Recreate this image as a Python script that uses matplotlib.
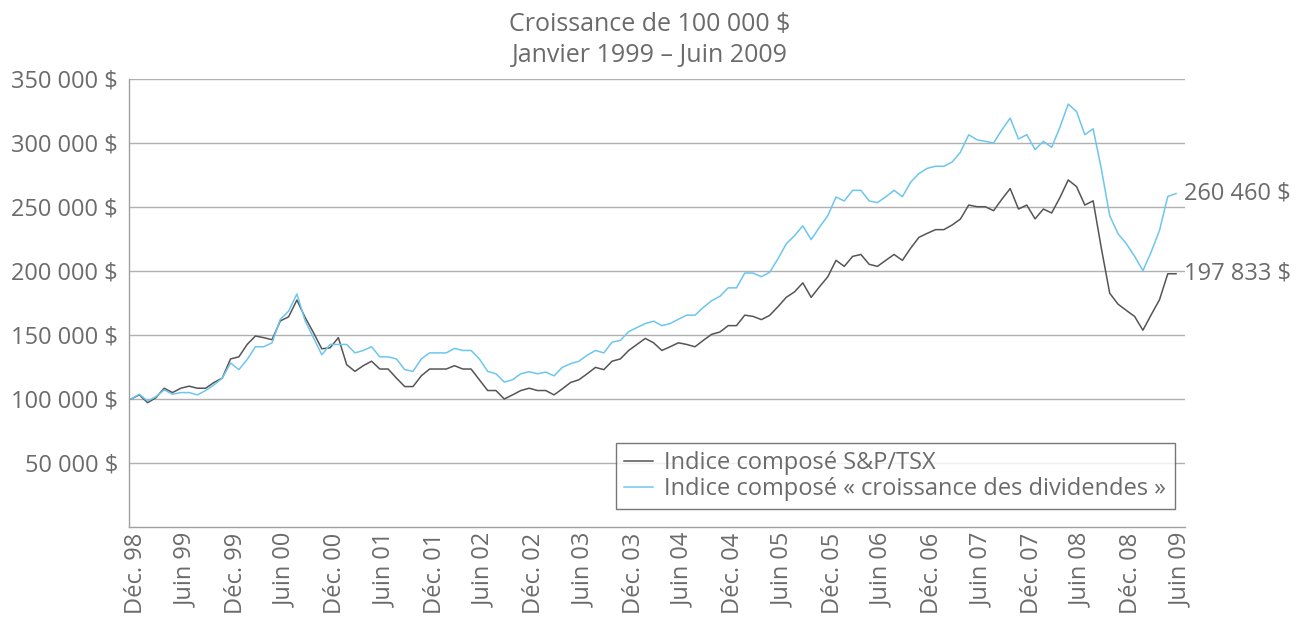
import matplotlib
matplotlib.use("Agg")
import matplotlib.pyplot as plt
import matplotlib.transforms as mtransforms
import numpy as np

# monthly values in thousands of $, Dec 98 -> Jun 09
tsx = [
    100.0, 103.2, 97.1, 101.0, 108.4, 105.0, 108.4, 110.0, 108.4, 108.4, 112.9, 116.3,
    131.3, 132.9, 142.6, 149.2, 147.9, 146.3, 161.0, 164.2, 177.3, 163.6, 151.8, 139.2,
    140.0, 147.9, 126.8, 121.6, 126.0, 129.5, 123.4, 123.4, 116.3, 109.7, 109.7, 118.1,
    123.4, 123.4, 123.4, 126.0, 123.4, 123.4, 115.0, 106.6, 106.6, 100.0, 103.2, 106.6,
    108.4, 106.6, 106.6, 103.2, 107.9, 112.9, 115.0, 119.7, 124.7, 122.9, 129.5, 131.3,
    137.9, 142.6, 147.3, 143.9, 137.9, 140.8, 143.9, 142.6, 140.8, 145.8, 150.5, 152.3,
    157.3, 157.3, 165.5, 164.5, 162.0, 165.3, 172.1, 179.4, 183.7, 190.7, 179.4, 187.6,
    195.4, 208.3, 203.6, 211.4, 212.9, 205.2, 203.6, 208.3, 212.9, 208.3, 217.8, 226.3,
    229.4, 232.3, 232.3, 235.9, 240.6, 251.5, 250.2, 250.2, 247.1, 256.1, 264.4, 248.4,
    251.5, 240.7, 248.4, 245.3, 257.4, 271.1, 265.9, 251.5, 254.8, 217.4, 182.6, 174.1,
    169.2, 164.5, 153.7, 165.8, 177.5, 197.8, 197.833,
]
div_growth = [
    100.0, 103.7, 98.4, 101.8, 107.1, 103.7, 105.0, 105.0, 103.2, 106.6, 111.0, 116.3,
    128.1, 122.9, 130.8, 140.8, 140.8, 143.9, 162.3, 168.6, 182.0, 161.0, 147.9, 134.5,
    142.6, 142.6, 142.6, 136.0, 137.9, 140.8, 132.9, 132.9, 131.3, 122.9, 121.6, 131.3,
    136.0, 136.0, 136.0, 139.5, 137.9, 137.9, 131.3, 121.6, 119.7, 113.2, 115.0, 119.7,
    121.3, 119.7, 121.0, 118.1, 124.7, 127.6, 129.5, 134.2, 137.9, 136.0, 144.4, 145.8,
    152.6, 155.8, 158.9, 160.8, 157.3, 158.9, 162.3, 165.5, 165.5, 171.5, 176.8, 180.2,
    186.8, 186.8, 198.4, 198.4, 195.5, 199.0, 209.5, 221.2, 227.6, 235.3, 224.5, 234.1,
    243.1, 257.8, 254.7, 263.0, 263.0, 254.7, 253.4, 258.0, 263.0, 258.0, 269.4, 276.1,
    280.2, 281.8, 281.8, 285.1, 292.8, 306.4, 302.5, 301.3, 300.0, 310.3, 319.4, 303.1,
    306.5, 294.8, 301.3, 296.6, 312.4, 330.4, 324.5, 306.5, 311.1, 279.4, 243.2, 229.1,
    221.3, 211.5, 200.2, 214.9, 231.6, 258.2, 260.46,
]
tick_labels = [
    "Déc. 98", "Juin 99", "Déc. 99", "Juin 00", "Déc. 00", "Juin 01", "Déc. 01",
    "Juin 02", "Déc. 02", "Juin 03", "Déc. 03", "Juin 04", "Déc. 04", "Juin 05",
    "Déc. 05", "Juin 06", "Déc. 06", "Juin 07", "Déc. 07", "Juin 08", "Déc. 08", "Juin 09",
]
y_ticks = [50000, 100000, 150000, 200000, 250000, 300000, 350000]
end_labels = ["260 460 $", "197 833 $"]

plt.rcParams['font.family'] = ['Open Sans', 'DejaVu Sans']
fs = 17
text_col = '#6b6b6b'
black_col = '#555558'
blue_col = '#6cc6ee'

tsx = np.array(tsx) * 1000
div_growth = np.array(div_growth) * 1000
months = np.arange(len(tsx))

fig = plt.figure(figsize=(12.96, 6.17), dpi=100)
ax = fig.add_axes([0.0995, 0.1459, 0.815, 0.7261])

ax.plot(months, tsx, color=black_col, lw=1.1, label="Indice composé S&P/TSX")
ax.plot(months, div_growth, color=blue_col, lw=1.1,
        label="Indice composé « croissance des dividendes »")

ax.set_xlim(-0.25, 127.1)
ax.set_ylim(0, 350000)
ax.set_yticks(y_ticks)
ax.set_yticklabels([f"{v:,}".replace(",", " ") + " $" for v in y_ticks])
ax.set_xticks(months[::6])
ax.set_xticklabels(tick_labels, rotation=90)
ax.tick_params(axis='both', length=0, labelsize=fs, colors=text_col)
ax.tick_params(axis='y', pad=8)
ax.tick_params(axis='x', pad=4)
# nudge the date labels a bit to the right, like the original
shift = mtransforms.ScaledTranslation(5 / 100, 0, fig.dpi_scale_trans)
for lbl in ax.get_xticklabels():
    lbl.set_transform(lbl.get_transform() + shift)

ax.grid(axis='y', color='#b0b0b0', lw=1.0)
ax.set_axisbelow(True)
for s in ['top', 'right']:
    ax.spines[s].set_visible(False)
for s in ['left', 'bottom']:
    ax.spines[s].set_color('#a0a0a0')
    ax.spines[s].set_linewidth(1.0)

# end-of-series labels
ax.annotate(end_labels[0], xy=(months[-1], div_growth[-1]), xytext=(6, 0),
            textcoords='offset points', va='center', ha='left',
            fontsize=fs, color=text_col, annotation_clip=False)
ax.annotate(end_labels[1], xy=(months[-1], tsx[-1]), xytext=(6, 0),
            textcoords='offset points', va='center', ha='left',
            fontsize=fs, color=text_col, annotation_clip=False)

leg = ax.legend(loc='lower right', bbox_to_anchor=(0.990, 0.04), fontsize=fs,
                frameon=True, fancybox=False, handlelength=1.2, handletextpad=0.5,
                borderpad=0.35, labelspacing=0.08, borderaxespad=0)
leg.get_frame().set_edgecolor('#555555')
leg.get_frame().set_linewidth(1.0)
for t in leg.get_texts():
    t.set_color(text_col)

fig.text(0.5015, 0.960, "Croissance de 100 000 $", ha='center', va='center',
         fontsize=18, color=text_col)
fig.text(0.5015, 0.910, "Janvier 1999 – Juin 2009", ha='center', va='center',
         fontsize=18, color=text_col)

fig.savefig("out.png", dpi=100)
